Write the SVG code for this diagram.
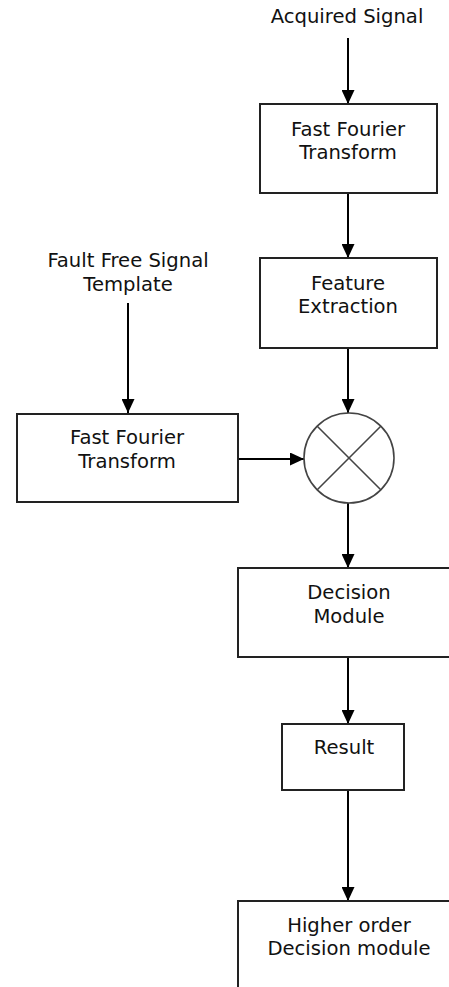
<svg xmlns="http://www.w3.org/2000/svg" width="449" height="987" viewBox="0 0 449 987">
<style>
.box{fill:#fff;stroke:#222;stroke-width:2}
.lbl{font-family:"DejaVu Sans",Verdana,sans-serif;font-size:19.6px;fill:#111;text-anchor:middle}
.con{stroke:#000;stroke-width:2;fill:none}
.sum{fill:#fff;stroke:#444;stroke-width:1.6}
</style>
<defs>
<marker id="arr" viewBox="0 0 14 13" refX="14" refY="6.5" markerWidth="14" markerHeight="13" markerUnits="userSpaceOnUse" orient="auto">
<path d="M0,0 L14,6.5 L0,13 z" fill="#000"/>
</marker>
</defs>
<rect width="449" height="987" fill="#fff"/>
<g id="connectors">
<line class="con" x1="348" y1="38" x2="348" y2="104" marker-end="url(#arr)"/>
<line class="con" x1="348" y1="193" x2="348" y2="258" marker-end="url(#arr)"/>
<line class="con" x1="128" y1="303" x2="128" y2="413" marker-end="url(#arr)"/>
<line class="con" x1="348" y1="348" x2="348" y2="413" marker-end="url(#arr)"/>
<line class="con" x1="238" y1="459" x2="304" y2="459" marker-end="url(#arr)"/>
<line class="con" x1="348" y1="503" x2="348" y2="568" marker-end="url(#arr)"/>
<line class="con" x1="348" y1="657" x2="348" y2="724" marker-end="url(#arr)"/>
<line class="con" x1="348" y1="790" x2="348" y2="901" marker-end="url(#arr)"/>
</g>
<g id="acquired">
<text class="lbl" x="347" y="23">Acquired Signal</text>
</g>
<g id="fft1">
<rect class="box" x="260" y="104" width="177" height="89"/>
<text class="lbl" x="348" y="136">Fast Fourier</text>
<text class="lbl" x="348" y="159">Transform</text>
</g>
<g id="feature">
<rect class="box" x="260" y="258" width="177" height="90"/>
<text class="lbl" x="348" y="290">Feature</text>
<text class="lbl" x="348" y="313">Extraction</text>
</g>
<g id="template">
<text class="lbl" x="128" y="267">Fault Free Signal</text>
<text class="lbl" x="128" y="291">Template</text>
</g>
<g id="fft2">
<rect class="box" x="17" y="414" width="221" height="88"/>
<text class="lbl" x="127" y="444">Fast Fourier</text>
<text class="lbl" x="127" y="468">Transform</text>
</g>
<g id="multiplier">
<circle class="sum" cx="349" cy="458" r="45"/>
<line class="sum" x1="317" y1="426" x2="381" y2="490"/>
<line class="sum" x1="381" y1="426" x2="317" y2="490"/>
</g>
<g id="decision">
<rect class="box" x="238" y="568" width="240" height="89"/>
<text class="lbl" x="349" y="599">Decision</text>
<text class="lbl" x="349" y="623">Module</text>
</g>
<g id="result">
<rect class="box" x="282" y="724" width="122" height="66"/>
<text class="lbl" x="344" y="754">Result</text>
</g>
<g id="higher">
<rect class="box" x="238" y="901" width="240" height="120"/>
<text class="lbl" x="349" y="932">Higher order</text>
<text class="lbl" x="349" y="955">Decision module</text>
</g>
</svg>
